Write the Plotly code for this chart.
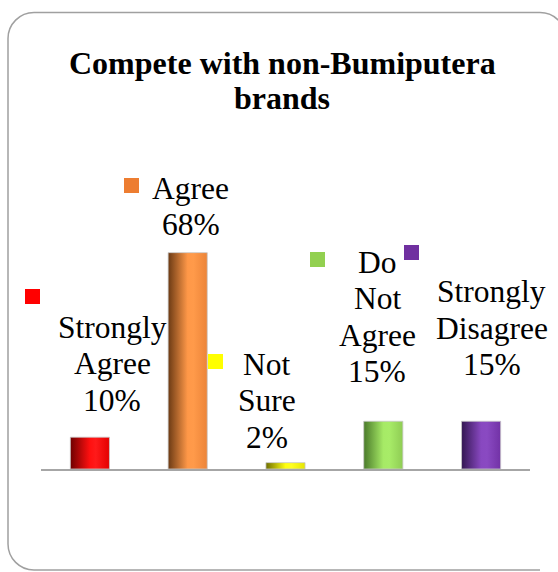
import plotly.graph_objects as go

# ---- data ----
CATEGORIES = ["Strongly Agree", "Agree", "Not Sure", "Do Not Agree", "Strongly Disagree"]
VALUES = [10, 68, 2, 15, 15]
TITLE_LINES = ["Compete with non-Bumiputera", "brands"]

# ---- style ----
KEY_COLORS = ["#FF0000", "#ED7D31", "#FFFF00", "#92D050", "#7030A0"]
BAR_SHADES = [
    ["#6e0000", "#ff1010", "#ff1a1a", "#e30000"],
    ["#6b3a14", "#ff9848", "#ff9a4a", "#ec8438"],
    ["#6e6e00", "#ffff10", "#ffff20", "#e6e600"],
    ["#4a7a2a", "#a6ea66", "#a8ec68", "#8fcc54"],
    ["#331652", "#8848c0", "#8a4ac2", "#7232a6"],
]
BAR_WIDTH = 0.4
FONT = "Liberation Serif, Times New Roman, serif"

W, H = 558, 572
L, R, T, B = 41, 28, 119, 103
PW, PH = W - L - R, H - T - B


def fx(px):
    return (px - L) / PW


def fy(py):
    return (H - B - py) / PH


# label placement in pixels: centre x, first baseline
LABEL_POS = [(112, 338), (190.5, 199), (266.5, 375), (377, 273), (491.5, 302.5)]
LINE_STEP = 36.6
LABEL_SIZE = 31.5
# legend-key squares: left, top (pixels)
KEY_POS = [(25, 289), (124, 178), (208, 354), (310, 252), (404, 245)]
KEY_SIZE = 15

fig = go.Figure()

# cylinder-shaded bars: filled rectangles with a horizontal gradient
for i, (cat, val) in enumerate(zip(CATEGORIES, VALUES)):
    x0, x1 = i - BAR_WIDTH / 2, i + BAR_WIDTH / 2
    s = BAR_SHADES[i]
    fig.add_trace(go.Scatter(
        x=[x0, x1, x1, x0, x0],
        y=[0, 0, val, val, 0],
        mode="lines",
        fill="toself",
        fillgradient=dict(
            type="horizontal",
            colorscale=[[0, s[0]], [0.5, s[1]], [0.65, s[2]], [1, s[3]]],
        ),
        line=dict(width=1, color="rgba(200,200,200,0.8)"),
        hoverinfo="skip",
        showlegend=False,
        name=cat,
    ))

annotations = []
shapes = []

# title, one annotation per line
title_baselines = [74, 109]
for line, base in zip(TITLE_LINES, title_baselines):
    annotations.append(dict(
        x=fx(282), y=fy(base - 11), xref="paper", yref="paper",
        text=f"<b>{line}</b>", showarrow=False, xanchor="center", yanchor="middle",
        font=dict(family=FONT, size=32, color="black"),
    ))

# data labels with legend keys
for i, (cat, val) in enumerate(zip(CATEGORIES, VALUES)):
    lines = cat.split() + [f"{val}%"]
    cx, base = LABEL_POS[i]
    for k, line in enumerate(lines):
        b = base + k * LINE_STEP
        annotations.append(dict(
            x=fx(cx), y=fy(b - 11), xref="paper", yref="paper",
            text=line, showarrow=False, xanchor="center", yanchor="middle",
            font=dict(family=FONT, size=LABEL_SIZE, color="black"),
        ))
    kx, ky = KEY_POS[i]
    shapes.append(dict(
        type="rect", xref="paper", yref="paper",
        x0=fx(kx), x1=fx(kx + KEY_SIZE), y0=fy(ky + KEY_SIZE), y1=fy(ky),
        fillcolor=KEY_COLORS[i], line=dict(width=0),
    ))

# rounded chart-area border (its right side lies past the page edge)
bl, bt, br, bb, rad = 8, 12.5, 566, 570, 26
k = 0.45
path = (
    f"M {fx(br)},{fy(bt + rad)} "
    f"C {fx(br)},{fy(bt + rad * k)} {fx(br - rad * k)},{fy(bt)} {fx(br - rad)},{fy(bt)} "
    f"L {fx(bl + rad)},{fy(bt)} "
    f"C {fx(bl + rad * k)},{fy(bt)} {fx(bl)},{fy(bt + rad * k)} {fx(bl)},{fy(bt + rad)} "
    f"L {fx(bl)},{fy(bb - rad)} "
    f"C {fx(bl)},{fy(bb - rad * k)} {fx(bl + rad * k)},{fy(bb)} {fx(bl + rad)},{fy(bb)} "
    f"L {fx(br - rad)},{fy(bb)}"
)
shapes.append(dict(type="path", xref="paper", yref="paper", path=path,
                   line=dict(color="#a0a0a0", width=1.5), layer="below"))

fig.update_layout(
    width=W, height=H,
    margin=dict(l=L, r=R, t=T, b=B),
    paper_bgcolor="white", plot_bgcolor="white",
    xaxis=dict(range=[-0.5, len(CATEGORIES) - 0.5], showgrid=False, zeroline=False,
               showticklabels=False, ticks="", showline=True,
               linecolor="#a6a6a6", linewidth=2, fixedrange=True),
    yaxis=dict(range=[0, 110], showgrid=False, zeroline=False, showticklabels=False,
               ticks="", showline=False, fixedrange=True),
    annotations=annotations,
    shapes=shapes,
    showlegend=False,
)

fig.write_html("out.html")
